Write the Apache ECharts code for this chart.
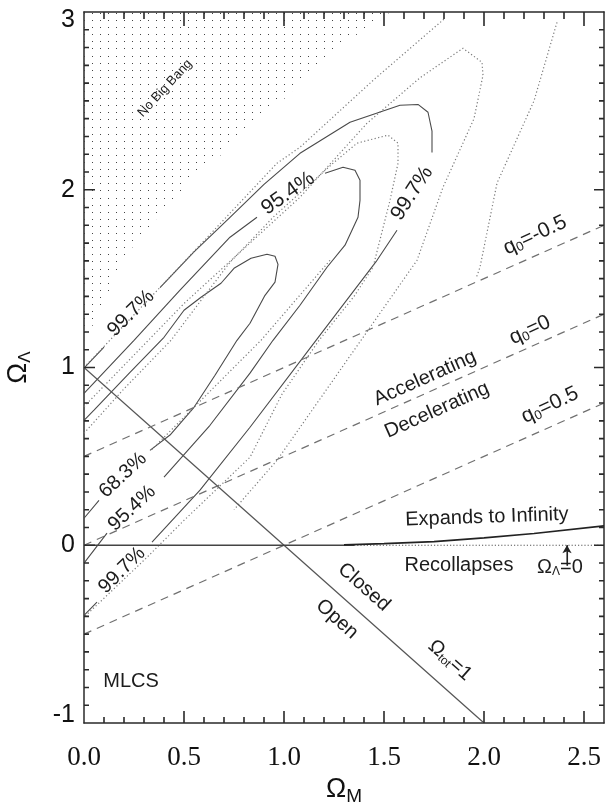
<!DOCTYPE html>
<html><head><meta charset="utf-8">
<script src="https://cdn.jsdelivr.net/npm/echarts@6/dist/echarts.min.js"></script>
<style>html,body{margin:0;padding:0;background:#fff}#c{width:605px;height:802px}</style>
</head><body><div id="c"></div>
<script>
// ---------- data ----------
const xMajorTicks = [0, 0.5, 1.0, 1.5, 2.0, 2.5];
const xAllTicks = [0.1,0.2,0.3,0.4,0.5,0.6,0.7,0.8,0.9,1.0,1.1,1.2,1.3,1.4,1.5,1.6,1.7,1.8,1.9,2.0,2.1,2.2,2.3,2.4,2.5];
const yMajorTicks = [-1, 0, 1, 2, 3];
const yAllTicks = [-0.9,-0.8,-0.7,-0.6,-0.5,-0.4,-0.3,-0.2,-0.1,0,0.1,0.2,0.3,0.4,0.5,0.6,0.7,0.8,0.9,1.0,1.1,1.2,1.3,1.4,1.5,1.6,1.7,1.8,1.9,2.0,2.1,2.2,2.3,2.4,2.5,2.6,2.7,2.8,2.9];
const GAP = ['-', '-'];
// "No Big Bang" boundary (region above is dotted)
const noBigBang = [[0,1.15],[0.03,1.2],[0.07,1.31],[0.115,1.41],[0.155,1.5],[0.195,1.62],[0.28,1.72],[0.365,1.84],[0.44,1.92],[0.49,2.0],[0.56,2.09],[0.68,2.19],[0.76,2.3],[0.88,2.41],[1.0,2.51],[1.2,2.73],[1.27,2.8],[1.4,2.9],[1.49,2.96],[1.53,3.0]];
// solid (MLCS) confidence contours
const solid683 = [[0,0.703],[0.05,0.76],[0.23,0.973],[0.40,1.17],[0.50,1.322],[0.585,1.395],[0.685,1.474],[0.75,1.558],[0.835,1.615],[0.915,1.637],[0.955,1.626],[0.97,1.58],[0.955,1.48],[0.905,1.406],[0.83,1.249],[0.765,1.153],[0.655,0.956],[0.55,0.776],[0.43,0.62],[0.33,0.534],GAP,[0.075,0.253],[0,0.152]];
const solid954 = [[0,0.855],[0.25,1.153],[0.48,1.435],[0.73,1.733],[0.865,1.845],GAP,[1.205,2.093],[1.295,2.127],[1.355,2.11],[1.38,2.053],[1.38,1.94],[1.37,1.845],[1.305,1.688],[1.215,1.564],[1.08,1.35],[0.945,1.153],[0.83,0.968],[0.63,0.675],[0.40,0.383],GAP,[0.115,0.068],[0,-0.101]];
const solid997 = [[0,0.996],[0.10,1.114],GAP,[0.38,1.45],[0.55,1.65],[0.73,1.845],[0.9,2.03],[1.08,2.205],[1.33,2.38],[1.58,2.475],[1.67,2.48],[1.72,2.436],[1.74,2.33],[1.74,2.21],GAP,[1.565,1.772],[1.465,1.603],[1.16,1.153],[0.83,0.664],[0.58,0.31],[0.34,0.017],GAP,[0.065,-0.32],[0,-0.394]];
// dotted confidence contours
const dotted683 = [[0,0.63],[0.2,0.88],[0.435,1.153],[0.6,1.4],[0.73,1.592],[0.95,1.85],[1.245,2.149],[1.365,2.262],[1.52,2.307],[1.57,2.262],[1.57,2.149],[1.53,1.94],[1.445,1.564],[1.35,1.40],[1.175,1.153],[0.99,0.85],[0.83,0.495],[0.5,0.14],[0.315,-0.068],[0,-0.405],GAP,[1.23,1.603],[0.885,1.153],[0.55,0.776],[0.335,0.534]];
const dotted954 = [[0,0.78],[0.5,1.36],[1.08,1.958],[1.415,2.374],[1.68,2.63],[1.895,2.796],[1.99,2.717],[1.995,2.644],[1.95,2.4],[1.795,2.014],[1.665,1.603],[1.385,1.153],[0.965,0.478],[0.75,0.2]];
const dotted997 = [[0,1.0],[0.40,1.474],[0.965,2.149],[1.08,2.239],[1.45,2.62],[1.805,2.965],GAP,[2.365,2.942],[2.25,2.5],[2.065,2.037],[1.98,1.564],[1.96,1.5]];
// reference lines
const omegaTot1 = [[0,1],[2,-1]];
const q0Minus05 = [[0,0.5],[2.6,1.8]];
const q0Zero = [[0,0],[2.6,1.3]];
const q0Plus05 = [[0,-0.5],[2.6,0.8]];
const lambdaZeroSolid = [[0,0],[1.35,0]];
const lambdaZeroDotted = [[1.35,0],[2.6,0]];
const expandBoundary = [[1.3,0.002],[1.5,0.009],[1.75,0.02],[2.0,0.042],[2.25,0.066],[2.6,0.109]];
const arrowLine = [[2.415,-0.115],[2.415,0]];
// text annotations: [x, y, text, rotationDeg, fontSize]
const annotations = [
  [0.405, 2.571, 'No Big Bang', 47, 13],
  [1.02, 1.98, '95.4%', 35, 21],
  [0.235, 1.305, '99.7%', 45, 20],
  [1.64, 1.98, '99.7%', 57, 21],
  [0.195, 0.394, '68.3%', 43, 20],
  [0.24, 0.208, '95.4%', 43, 20],
  [0.19, -0.141, '99.7%', 45, 20],
  [2.255, 1.744, '{a|q}{s|0}{a|=-0.5}', 25, 21],
  [2.23, 1.21, '{a|q}{s|0}{a|=0}', 25, 21],
  [2.33, 0.788, '{a|q}{s|0}{a|=0.5}', 25, 21],
  [1.705, 0.94, 'Accelerating', 24, 20],
  [1.765, 0.76, 'Decelerating', 24, 20],
  [2.015, 0.158, 'Expands to Infinity', 2, 20],
  [1.875, -0.113, 'Recollapses', 0, 20],
  [2.38, -0.124, '{a|Ω}{s|Λ}{a|=0}', 0, 20],
  [1.40, -0.236, 'Closed', -41.6, 20],
  [1.265, -0.416, 'Open', -41.6, 20],
  [1.83, -0.647, '{a|Ω}{s|tot}{a|=1}', -41.6, 20],
  [0.235, -0.765, 'MLCS', 0, 20]
];

// ---------- chart ----------
const SANS = 'Liberation Sans, Arial, sans-serif';
const SERIF = 'Liberation Serif, Times New Roman, serif';
const AX = '#2a2a2a';
const X0 = 0, X1 = 2.6, Y0 = -1, Y1 = 3;
const PX_PER_X = 520 / 2.6, PX_PER_Y = 711 / 4;   // grid size / axis span (for tick lengths)

function dotPattern() {
  const c = document.createElement('canvas');
  c.width = 8; c.height = 71;
  const g = c.getContext('2d');
  g.fillStyle = '#444';
  for (let k = 0; k < 10; k++) {
    const y = Math.round((20 + 7.1 * k) % 71);
    g.fillRect(4, Math.min(y, 70), 1, 1);
  }
  return c;
}
const isIn = (list, v) => list.some(t => Math.abs(t - v) < 1e-6);

// inside tick segments built from the tick lists (lengths given in pixels)
const tickSegs = [];
xAllTicks.forEach(v => {
  const major = isIn(xMajorTicks, v);
  const lb = (major ? 12 : 6) / PX_PER_Y, lt = (major ? 14 : 7) / PX_PER_Y;
  tickSegs.push([v, Y0], [v, Y0 + lb], GAP, [v, Y1], [v, Y1 - lt], GAP);
});
yAllTicks.forEach(v => {
  const major = isIn(yMajorTicks, v);
  const ll = (major ? 11 : 5) / PX_PER_X, lr = (major ? 10 : 5) / PX_PER_X;
  tickSegs.push([X0, v], [X0 + ll, v], GAP, [X1, v], [X1 - lr, v], GAP);
});

const baseAxis = (pos, mn, mx) => ({
  type: 'value', position: pos, min: mn, max: mx,
  axisLine: { show: true, onZero: false, lineStyle: { color: AX, width: 1.5 } },
  axisTick: { show: false }, splitLine: { show: false }
});
const xAxes = [Object.assign(baseAxis('bottom', X0, X1), {
  interval: 0.5,
  axisLabel: { show: true, margin: 21, color: '#111', fontFamily: SERIF, fontSize: 27, showMaxLabel: false,
    formatter: v => (isIn(xMajorTicks, v) ? v.toFixed(1) : '') },
  name: '{o|Ω}{s|M}', nameLocation: 'middle', nameGap: 34,
  nameTextStyle: { rich: { o: { fontFamily: SANS, fontSize: 27, color: '#111' }, s: { fontFamily: SANS, fontSize: 19, color: '#111', padding: [14, 0, 0, 0] } } }
}), Object.assign(baseAxis('top', X0, X1), { interval: 0.5, axisLabel: { show: false } })];
const yAxes = [Object.assign(baseAxis('left', Y0, Y1), {
  interval: 1,
  axisLabel: {
    show: true, margin: 9, color: '#111', fontFamily: SANS, fontSize: 25,
    formatter: v => v === 3 ? '{t|3}' : (v === -1 ? '{b|-1}' : String(v)),
    rich: {
      t: { fontFamily: SANS, fontSize: 25, color: '#111', padding: [16, 0, 0, 0] },
      b: { fontFamily: SANS, fontSize: 25, color: '#111', padding: [0, 0, 16, 0] }
    }
  },
  name: '{o|Ω}{s|Λ}', nameLocation: 'middle', nameGap: 50, nameRotate: 90,
  nameTextStyle: { rich: { o: { fontFamily: SANS, fontSize: 28, color: '#111' }, s: { fontFamily: SANS, fontSize: 17, color: '#111', padding: [14, 0, 0, 0] } } }
}), Object.assign(baseAxis('right', Y0, Y1), { interval: 1, axisLabel: { show: false } })];

function lineSeries(data, style, extra) {
  return Object.assign({
    type: 'line', data: data, xAxisIndex: 0, yAxisIndex: 0, showSymbol: false, symbol: 'none',
    silent: true, animation: false, connectNulls: false, lineStyle: style, z: 3
  }, extra || {});
}
const SOLID = { color: '#4a4a4a', width: 1.1, type: 'solid' };
const DOTTED = { color: '#7a7a7a', width: 1.2, type: [1.2, 2.4] };
const DASHED = { color: '#707070', width: 1.2, type: [8, 6] };

const series = [
  lineSeries(noBigBang, { width: 0, opacity: 0 }, {
    areaStyle: { origin: 'end', color: { image: dotPattern(), repeat: 'repeat' }, opacity: 1 }, z: 1
  }),
  lineSeries(solid683, SOLID),
  lineSeries(solid954, SOLID),
  lineSeries(solid997, SOLID),
  lineSeries(dotted683, DOTTED),
  lineSeries(dotted954, DOTTED),
  lineSeries(dotted997, DOTTED),
  lineSeries(omegaTot1, { color: '#555', width: 1.2 }),
  lineSeries(q0Minus05, DASHED),
  lineSeries(q0Zero, DASHED),
  lineSeries(q0Plus05, DASHED),
  lineSeries(lambdaZeroSolid, { color: '#444', width: 1.3 }),
  lineSeries(lambdaZeroDotted, { color: '#555', width: 1.2, type: [1.2, 2] }),
  lineSeries(expandBoundary, { color: '#222', width: 1.7 }),
  lineSeries(arrowLine, { color: '#222', width: 1.1 }, {
    markLine: {
      silent: true, symbol: ['none', 'arrow'], symbolSize: [7, 8], label: { show: false },
      lineStyle: { color: '#222', width: 1.1, type: 'solid' }, animation: false,
      data: [[{ coord: arrowLine[0] }, { coord: arrowLine[1] }]]
    }
  }),
  lineSeries(tickSegs, { color: AX, width: 1.6, type: 'solid', cap: 'butt' }, { z: 6, clip: false })
];

const chart = echarts.init(document.getElementById('c'), null, { renderer: 'canvas' });
chart.setOption({
  animation: false,
  backgroundColor: '#fff',
  grid: { left: 84, right: 1, top: 12, bottom: 79, containLabel: false, outerBoundsMode: 'none' },
  xAxis: xAxes, yAxis: yAxes, series: series
});

// place annotation texts through the chart's own coordinate system
const graphics = annotations.map(a => {
  const p = chart.convertToPixel({ xAxisIndex: 0, yAxisIndex: 0 }, [a[0], a[1]]);
  const fs = a[4];
  return {
    type: 'text', x: p[0], y: p[1], rotation: a[3] * Math.PI / 180, silent: true, z: 10,
    style: {
      text: a[2], fill: '#1c1c1c', fontFamily: SANS, fontSize: fs,
      align: 'center', verticalAlign: 'middle',
      rich: {
        a: { fontFamily: SANS, fontSize: fs, fill: '#1c1c1c', lineHeight: fs + 2 },
        s: { fontFamily: SANS, fontSize: Math.round(fs * 0.62), fill: '#1c1c1c', padding: [Math.round(fs * 0.45), 0, 0, 0] }
      }
    }
  };
});
chart.setOption({ graphic: graphics });
</script></body></html>
